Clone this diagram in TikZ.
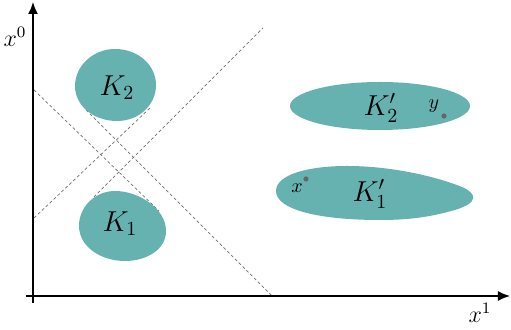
\documentclass[tikz,border=0pt]{standalone}
\usetikzlibrary{arrows.meta}
\definecolor{blob}{RGB}{102,178,177}
\definecolor{dashgray}{RGB}{110,110,110}
\tikzset{
  axis/.style={line width=0.8pt,-{Latex[length=6pt,width=5pt]}},
  cone/.style={dashgray,line width=0.35pt,dash pattern=on 1.5pt off 1.2pt},
  region/.style={fill=blob,draw=none},
  blab/.style={font=\Large},
  alab/.style={font=\large},
  slab/.style={font=\normalsize},
  pt/.style={circle,fill=black!60,inner sep=0pt,minimum size=2.6pt}
}
\begin{document}
\begin{tikzpicture}[x=0.5pt,y=-0.5pt]
\useasboundingbox (0,0) rectangle (511,330);
% cone lines
\coordinate (a1s) at (34,218); \coordinate (a1e) at (150,108);
\coordinate (a2s) at (94,197); \coordinate (a2e) at (263,28);
\coordinate (b1s) at (34,90);  \coordinate (b1e) at (159,211);
\coordinate (b2s) at (86,110); \coordinate (b2e) at (272,296);
\draw[cone] (a1s) -- (a1e);
\draw[cone] (a2s) -- (a2e);
\draw[cone] (b1s) -- (b1e);
\draw[cone] (b2s) -- (b2e);
% regions
\fill[region] (115,49) .. controls (138,49) and (156,65) .. (156,85)
  .. controls (156,105) and (139,121) .. (117,121)
  .. controls (94,121) and (75,106) .. (75,86)
  .. controls (75,66) and (93,49) .. (115,49) -- cycle;
\fill[region] (115,191) .. controls (138,191) and (166,208) .. (166,231)
  .. controls (166,250) and (146,261) .. (125,261)
  .. controls (100,261) and (79,246) .. (79,226)
  .. controls (79,206) and (96,191) .. (115,191) -- cycle;
\fill[region] (380,106) ellipse [x radius=90, y radius=24];
\fill[region] (276,191) .. controls (276,174) and (310,166) .. (347,166)
  .. controls (395,166) and (440,178) .. (462,187)
  .. controls (478,194) and (478,203) .. (455,210)
  .. controls (430,217) and (410,220) .. (380,220)
  .. controls (320,220) and (276,210) .. (276,191) -- cycle;
% axes
\coordinate (o0) at (33,303); \coordinate (t0) at (33,2);
\coordinate (o1) at (26,296); \coordinate (t1) at (510,296);
\draw[axis] (o0) -- (t0);
\draw[axis] (o1) -- (t1);
\node[alab] (lx0) at (15,37) {$x^0$};
\node[alab] (lx1) at (480,313) {$x^1$};
% labels
\node[blab] (k2) at (117,88) {$K_2$};
\node[blab] (k1) at (120,224) {$K_1$};
\node[blab] (k2p) at (381,108) {$K_2'$};
\node[blab] (k1p) at (370,194) {$K_1'$};
% points
\node[pt] (py) at (444,116) {};
\node[pt] (px) at (306,179) {};
\node[slab] (ly) at (434,106) {$y$};
\node[slab] (lxx) at (297,188) {$x$};
\end{tikzpicture}
\end{document}
